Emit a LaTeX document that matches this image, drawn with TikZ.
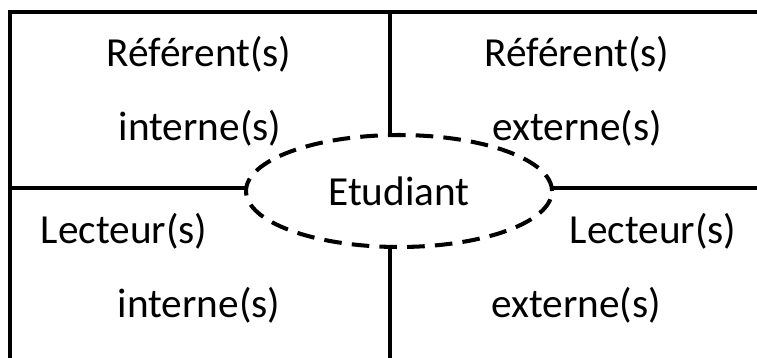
\documentclass[tikz,border=0pt]{standalone}
\usepackage{fontspec}
\setmainfont{Carlito}
\usepackage{tikz}
\usetikzlibrary{shapes.geometric}
\tikzstyle{gridline} = [line width=2.3pt]
\tikzstyle{quad} = [anchor=base, inner sep=0pt, font=\fontsize{23.5}{28}\selectfont]
\tikzstyle{student} = [ellipse, draw, line width=2.3pt, dash pattern=on 10pt off 5.8pt, minimum width=6.12cm, minimum height=2.24cm, inner sep=0pt, outer sep=0pt, font=\fontsize{23.5}{28}\selectfont]

\begin{document}
\begin{tikzpicture}[x=0.02cm, y=-0.02cm]
    \useasboundingbox (0,0) rectangle (757,358);

    % Frame corners and divider ends
    \coordinate (tl) at (10,12);
    \coordinate (tr) at (762,12);
    \coordinate (bl) at (10,362);
    \coordinate (tm) at (390,12);
    \coordinate (bm) at (390,362);
    \coordinate (lm) at (10,188);
    \coordinate (rm) at (762,188);
    \draw [gridline] (tr) -- (tl) -- (bl);

    % Student in the middle
    \node (etu) [student] at (399,191) {Etudiant};

    % Dividers
    \draw [gridline] (tm) -- (tm |- etu.north);
    \draw [gridline] (bm) -- (bm |- etu.south);
    \draw [gridline] (lm) -- (etu.west |- lm);
    \draw [gridline] (rm) -- (etu.east |- rm);

    % Referents
    \node (refint) [quad] at (199,67) {Référent(s)};
    \node (refintb) [quad] at (200,140) {interne(s)};
    \node (refext) [quad] at (577,67) {Référent(s)};
    \node (refextb) [quad] at (577,140) {externe(s)};

    % Readers
    \node (lecint) [quad] at (124,243) {Lecteur(s)};
    \node (lecintb) [quad] at (199,317) {interne(s)};
    \node (lecext) [quad] at (653,243) {Lecteur(s)};
    \node (lecextb) [quad] at (576,317) {externe(s)};
\end{tikzpicture}
\end{document}
